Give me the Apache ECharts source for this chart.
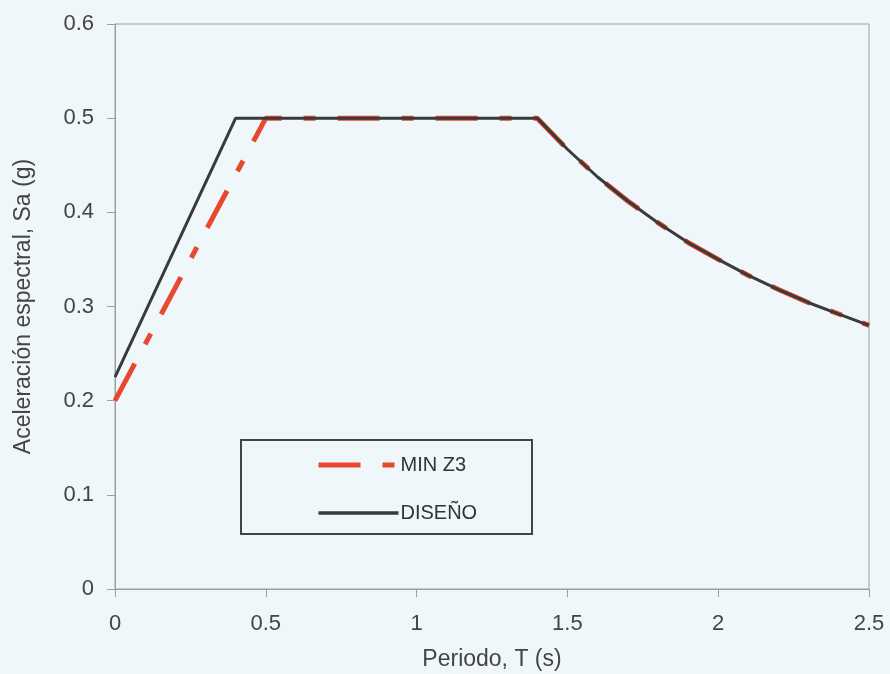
<!DOCTYPE html>
<html>
<head>
    <meta charset="utf-8">
    <title>Espectro de diseño</title>
    <script src="https://cdn.jsdelivr.net/npm/echarts@6/dist/echarts.min.js"></script>
</head>
<style>
    body { margin: 0; background: #eff7fb; }
</style>
<body>
    <div id="main" style="width: 890px;height:674px;"></div>
    <script type="text/javascript">
        // datos
        var periodosMin = [0, 0.5, 1.4, 1.5, 1.6, 1.7, 1.8, 1.9, 2.0, 2.1, 2.2, 2.3, 2.4, 2.5];
        var minZ3       = [0.20, 0.50, 0.50, 0.467, 0.4375, 0.412, 0.389, 0.368, 0.35, 0.333, 0.318, 0.304, 0.292, 0.28];
        var periodosDis = [0, 0.4, 1.4, 1.5, 1.6, 1.7, 1.8, 1.9, 2.0, 2.1, 2.2, 2.3, 2.4, 2.5];
        var diseno      = [0.225, 0.50, 0.50, 0.467, 0.4375, 0.412, 0.389, 0.368, 0.35, 0.333, 0.318, 0.304, 0.292, 0.28];
        var xTicks = [0, 0.5, 1, 1.5, 2, 2.5];
        var yTicks = [0, 0.1, 0.2, 0.3, 0.4, 0.5, 0.6];

        function pares(xs, ys) {
            return xs.map(function (x, i) { return [x, ys[i]]; });
        }

        var myChart = echarts.init(document.getElementById('main'));
        var fuente = 'Liberation Sans';
        var rojo = '#e8482e', negro = '#3a3a3a', gris = '#9aa0a0', texto = '#444';
        var discontinua = [42, 22, 12, 22];

        var option = {
            backgroundColor: '#eff7fb',
            animation: false,
            grid: {
                left: 115, top: 24, right: 21, bottom: 85,
                outerBoundsMode: 'none',
                show: true, borderColor: gris, borderWidth: 1
            },
            legend: {
                orient: 'vertical',
                left: 311, top: 450,
                itemWidth: 80, itemHeight: 18, itemGap: 28,
                itemStyle: { opacity: 0 },
                textStyle: { fontFamily: fuente, fontSize: 20, color: '#333', padding: [0, 0, 0, -3] },
                data: [
                    { name: 'MIN Z3', lineStyle: { width: 5, color: rojo, type: discontinua } },
                    { name: 'DISEÑO', lineStyle: { width: 3.5, color: negro } }
                ]
            },
            graphic: [{
                type: 'rect',
                shape: { x: 241, y: 440, width: 291, height: 94 },
                style: { fill: 'none', stroke: '#444', lineWidth: 2 },
                z: 10
            }],
            xAxis: {
                type: 'value',
                min: 0, max: 2.5, interval: 0.5,
                name: 'Periodo, T (s)',
                nameLocation: 'middle',
                nameGap: 59,
                nameTextStyle: { fontFamily: fuente, fontSize: 23, color: texto },
                axisLine: { lineStyle: { color: gris } },
                axisTick: { length: 8, lineStyle: { color: gris } },
                axisLabel: {
                    margin: 24, fontFamily: fuente, fontSize: 22, color: texto,
                    formatter: function (v) { return xTicks.indexOf(v) >= 0 ? String(v) : ''; }
                },
                splitLine: { show: false }
            },
            yAxis: {
                type: 'value',
                min: 0, max: 0.6, interval: 0.1,
                name: 'Aceleración espectral, Sa (g)',
                nameLocation: 'middle',
                nameGap: 80,
                nameTextStyle: { fontFamily: fuente, fontSize: 23, color: texto },
                axisLine: { show: true, lineStyle: { color: gris } },
                axisTick: { show: true, length: 8, lineStyle: { color: gris } },
                axisLabel: {
                    margin: 21, fontFamily: fuente, fontSize: 22, color: texto,
                    formatter: function (v) {
                        var r = Math.round(v * 10) / 10;
                        return yTicks.indexOf(r) >= 0 ? String(r) : '';
                    }
                },
                splitLine: { show: false }
            },
            series: [{
                name: 'MIN Z3',
                type: 'line',
                data: pares(periodosMin, minZ3),
                symbol: 'none',
                color: rojo,
                lineStyle: { color: rojo, width: 5, type: discontinua },
                z: 2
            }, {
                name: 'DISEÑO',
                type: 'line',
                data: pares(periodosDis, diseno),
                symbol: 'none',
                color: negro,
                lineStyle: { color: negro, width: 3 },
                z: 3
            }]
        };
        myChart.setOption(option);
    </script>
</body>
</html>
